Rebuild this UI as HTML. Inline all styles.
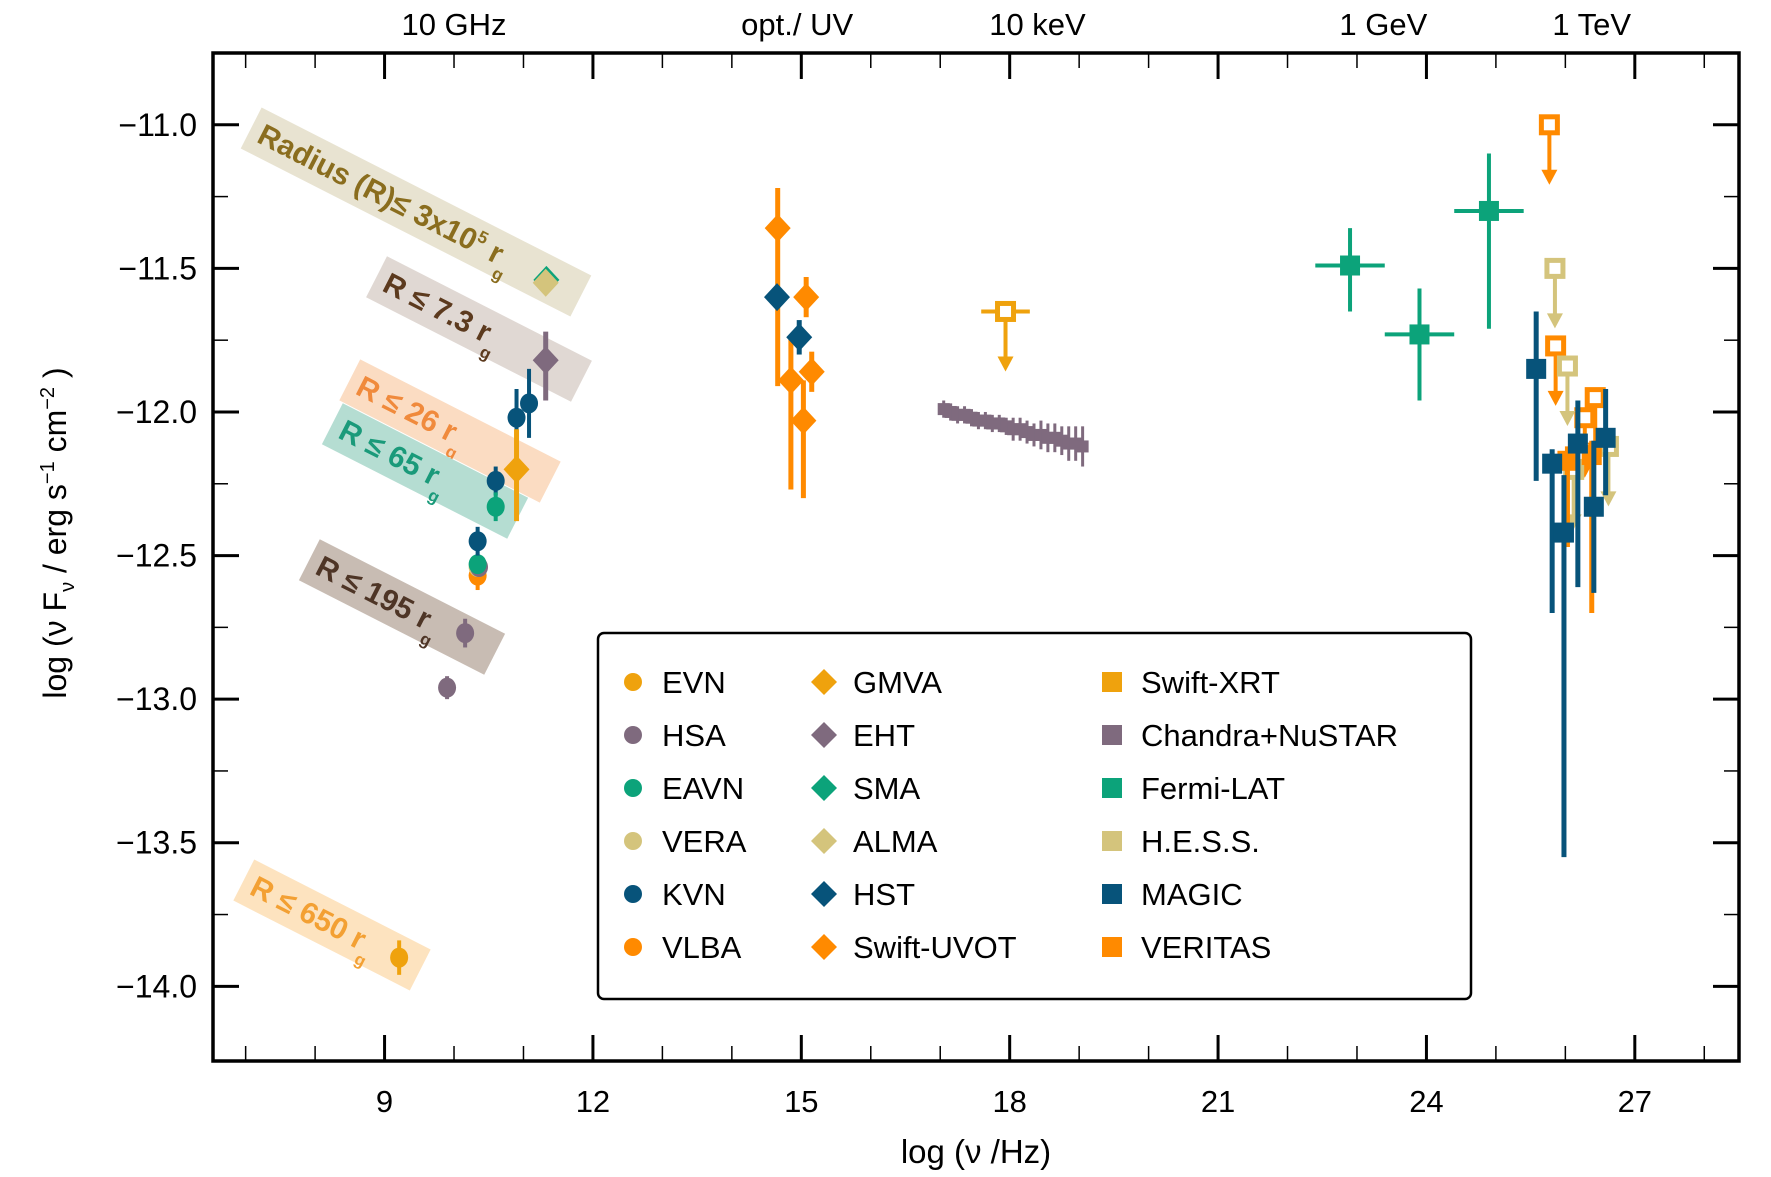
<!DOCTYPE html>
<html><head><meta charset="utf-8"><style>
html,body{margin:0;padding:0;background:#fff}
svg{display:block;font-family:"Liberation Sans","DejaVu Sans",sans-serif}
</style></head><body>
<svg id="chart" width="1771" height="1177" viewBox="0 0 1771 1177" xmlns="http://www.w3.org/2000/svg">
<g id="bands"></g>
<g id="axes"></g>
<g id="marks"></g>
<g id="legend"></g>
</svg>
<script>
const NS="http://www.w3.org/2000/svg";
const xDomain=[6.53,28.5], yDomain=[-10.75,-14.26];
const xTicksMajor=[9,12,15,18,21,24,27];
const xTicksMinor=[7,8,10,11,13,14,16,17,19,20,22,23,25,26,28];
const yTicksMajor=[-11.0,-11.5,-12.0,-12.5,-13.0,-13.5,-14.0];
const yTickLabels=["\u221211.0","\u221211.5","\u221212.0","\u221212.5","\u221213.0","\u221213.5","\u221214.0"];
const yTicksMinor=[-11.25,-11.75,-12.25,-12.75,-13.25,-13.75];
const topTicks=[10,14.94,18.4,23.38,26.38];
const topLabels=["10 GHz","opt./ UV","10 keV","1 GeV","1 TeV"];
const C={EVN:"#efa20d",HSA:"#7f6a7e",EAVN:"#0ca37a",VERA:"#d4c47c",KVN:"#07537a",VLBA:"#ff8a00",
GMVA:"#efa20d",EHT:"#7f6a7e",SMA:"#0ca37a",ALMA:"#d4c47c",HST:"#07537a",UVOT:"#ff8a00",
XRT:"#efa20d",CHANDRA:"#7f6a7e",FERMI:"#0ca37a",HESS:"#d4c47c",MAGIC:"#07537a",VERITAS:"#ff8a00"};
const circInst=["HSA","HSA","VLBA","VERA","HSA","EAVN","KVN","KVN","EAVN","KVN","KVN","EVN"];
const circX=[9.9,10.16,10.34,10.34,10.36,10.34,10.34,10.6,10.6,10.9,11.08,9.21];
const circY=[-12.96,-12.77,-12.57,-12.54,-12.54,-12.53,-12.45,-12.24,-12.33,-12.02,-11.97,-13.9];
const circE=[0.04,0.05,0.05,0.03,0.03,0.03,0.05,0.05,0.05,0.1,0.12,0.06];
const diaInst=["GMVA","EHT","SMA","ALMA","UVOT","UVOT","UVOT","UVOT","UVOT","HST","HST"];
const diaX=[10.9,11.32,11.33,11.32,14.66,15.07,14.85,15.15,15.03,14.65,14.97];
const diaY=[-12.2,-11.82,-11.54,-11.55,-11.36,-11.6,-11.89,-11.86,-12.03,-11.6,-11.74];
const diaEup=[0.14,0.1,0.03,0.03,0.14,0.07,0.15,0.07,0.14,0.02,0.06];
const diaEdn=[0.18,0.14,0.03,0.03,0.55,0.07,0.38,0.07,0.27,0.02,0.06];
const chX=[17.05,17.15,17.25,17.35,17.45,17.55,17.65,17.75,17.85,17.95,18.05,18.15,18.25,18.35,18.45,18.55,18.65,18.75,18.85,18.95,19.05];
const chY=[-11.99,-12.0,-12.01,-12.01,-12.02,-12.03,-12.03,-12.04,-12.04,-12.05,-12.06,-12.06,-12.07,-12.08,-12.08,-12.09,-12.09,-12.1,-12.11,-12.11,-12.12];
const chE=[0.03,0.03,0.03,0.03,0.03,0.03,0.03,0.03,0.03,0.03,0.04,0.04,0.04,0.04,0.05,0.05,0.05,0.05,0.06,0.06,0.07];
const feX=[22.9,23.9,24.9], feY=[-11.49,-11.73,-11.3];
const feXe=[0.5,0.5,0.5], feYup=[0.13,0.16,0.2], feYdn=[0.16,0.23,0.41];
const tevInst=["VERITAS","VERITAS","MAGIC","MAGIC","MAGIC","MAGIC","MAGIC","MAGIC"];
const tevX=[26.03,26.38,25.58,25.81,25.98,26.18,26.41,26.58];
const tevY=[-12.17,-12.15,-11.85,-12.18,-12.42,-12.11,-12.33,-12.09];
const tevUp=[0.05,0.05,0.2,0.05,0.2,0.15,0.23,0.17];
const tevDn=[0.3,0.55,0.39,0.52,1.13,0.5,0.3,0.2];
const ulInst=["XRT","VERITAS","VERITAS","VERITAS","VERITAS","HESS","HESS","HESS","HESS"];
const ulX=[17.94,25.77,25.86,26.28,26.43,25.85,26.03,26.12,26.62];
const ulY=[-11.65,-11.0,-11.77,-12.02,-11.95,-11.5,-11.84,-12.2,-12.12];

const X0=213,X1=1739,Y0=53,Y1=1061;
function sx(v){return X0+(v-xDomain[0])/(xDomain[1]-xDomain[0])*(X1-X0);}
function sy(v){return Y0+(v-yDomain[0])/(yDomain[1]-yDomain[0])*(Y1-Y0);}
function mk(tag,attrs,parent,text){const e=document.createElementNS(NS,tag);for(const k in attrs)e.setAttribute(k,attrs[k]);if(text!==undefined)e.textContent=text;parent.appendChild(e);return e;}
const axes=document.getElementById('axes'),marks=document.getElementById('marks'),bands=document.getElementById('bands'),legend=document.getElementById('legend');

const bandCx=[416,479,450,425,402,332],bandCy=[212,329,431,471,607,925],bandLen=[370,230,225,208,208,198];
const bandBg=["#e8e3d1","#e0d8d3","#fbdcc2","#b5ddd2","#c8bcb3","#fde3bf"];
const bandFg=["#8a6d1e","#5c3a1e","#f08a3c","#1a9a7a","#4e3526","#f3a033"];
const bandTxt=["Radius (R)\u2264 3x10","R \u2264 7.3 r","R \u2264 26 r","R \u2264 65 r","R \u2264 195 r","R \u2264 650 r"];
for(let i=0;i<bandCx.length;i++){
 const g=mk('g',{transform:`translate(${bandCx[i]},${bandCy[i]}) rotate(27)`},bands);
 
 
 mk('rect',{x:-bandLen[i]/2,y:-23,width:bandLen[i],height:46,fill:bandBg[i]},g);
 const t=mk('text',{x:-bandLen[i]/2+10,y:10,'font-size':30,'font-weight':'bold',fill:bandFg[i]},g);
 t.textContent=bandTxt[i];
 if(i===0){mk('tspan',{dy:-12,'font-size':17},t,'5');mk('tspan',{dy:12,'font-size':30},t,' r');mk('tspan',{dy:14,'font-size':17},t,'g');}
 else{mk('tspan',{dy:14,'font-size':17},t,'g');}
}

mk('rect',{x:X0,y:Y0,width:X1-X0,height:Y1-Y0,fill:'none',stroke:'#000','stroke-width':3.5},axes);
xTicksMajor.forEach(v=>{const x=sx(v);mk('line',{x1:x,x2:x,y1:Y1,y2:Y1-26,stroke:'#000','stroke-width':3},axes);mk('line',{x1:x,x2:x,y1:Y0,y2:Y0+26,stroke:'#000','stroke-width':3},axes);
 const t=mk('text',{x:x,y:1112,'font-size':31,'text-anchor':'middle'},axes,String(v));});
xTicksMinor.forEach(v=>{const x=sx(v);mk('line',{x1:x,x2:x,y1:Y1,y2:Y1-15,stroke:'#000','stroke-width':1.5},axes);mk('line',{x1:x,x2:x,y1:Y0,y2:Y0+15,stroke:'#000','stroke-width':1.5},axes);});
yTicksMajor.forEach((v,i)=>{const y=sy(v);mk('line',{x1:X0,x2:X0+26,y1:y,y2:y,stroke:'#000','stroke-width':3},axes);mk('line',{x1:X1,x2:X1-26,y1:y,y2:y,stroke:'#000','stroke-width':3},axes);
 const t=mk('text',{x:197,y:y+11,'font-size':32,'text-anchor':'end'},axes,yTickLabels[i]);});
yTicksMinor.forEach(v=>{const y=sy(v);mk('line',{x1:X0,x2:X0+15,y1:y,y2:y,stroke:'#000','stroke-width':1.5},axes);mk('line',{x1:X1,x2:X1-15,y1:y,y2:y,stroke:'#000','stroke-width':1.5},axes);});
topTicks.forEach((v,i)=>{const t=mk('text',{x:sx(v),y:35,'font-size':31,'text-anchor':'middle'},axes,topLabels[i]);});
const xl=mk('text',{x:976,y:1163,'font-size':33,'text-anchor':'middle'},axes,'log (\u03bd /Hz)');

const yl=mk('text',{x:0,y:0,'font-size':32,'text-anchor':'middle',transform:'translate(66,533) rotate(-90)'},axes,'log (\u03bd F');

mk('tspan',{dy:8,'font-size':20},yl,'\u03bd');mk('tspan',{dy:-8,'font-size':32},yl,' / erg s');mk('tspan',{dy:-12,'font-size':20},yl,'\u22121');mk('tspan',{dy:12,'font-size':32},yl,' cm');mk('tspan',{dy:-12,'font-size':20},yl,'\u22122');mk('tspan',{dy:12,'font-size':32},yl,' )');

function vbar(x,y1,y2,c,w){mk('line',{x1:x,x2:x,y1:y1,y2:y2,stroke:c,'stroke-width':w||4},marks);}
for(let i=0;i<chX.length;i++){const x=sx(chX[i]),y=sy(chY[i]);vbar(x,sy(chY[i]+chE[i]),sy(chY[i]-chE[i]),C.CHANDRA,3);
 const r=mk('rect',{x:x-6,y:y-6,width:12,height:12,fill:C.CHANDRA},marks);}
for(let i=0;i<circX.length;i++){const x=sx(circX[i]),y=sy(circY[i]),c=C[circInst[i]];vbar(x,sy(circY[i]+circE[i]),sy(circY[i]-circE[i]),c);
 const e=mk('ellipse',{cx:x,cy:y,rx:9,ry:10,fill:c},marks);}
for(let i=0;i<diaX.length;i++){const x=sx(diaX[i]),y=sy(diaY[i]),c=C[diaInst[i]];vbar(x,sy(diaY[i]+diaEup[i]),sy(diaY[i]-diaEdn[i]),c,5);
 const p=mk('polygon',{points:`${x},${y-14} ${x+13},${y} ${x},${y+14} ${x-13},${y}`,fill:c},marks);}
for(let i=0;i<feX.length;i++){const x=sx(feX[i]),y=sy(feY[i]);vbar(x,sy(feY[i]+feYup[i]),sy(feY[i]-feYdn[i]),C.FERMI,4);
 mk('line',{x1:sx(feX[i]-feXe[i]),x2:sx(feX[i]+feXe[i]),y1:y,y2:y,stroke:C.FERMI,'stroke-width':4},marks);
 const r=mk('rect',{x:x-10,y:y-10,width:20,height:20,fill:C.FERMI},marks);}
for(let i=0;i<ulX.length;i++){const x=sx(ulX[i]),y=sy(ulY[i]),c=C[ulInst[i]];
 vbar(x,y,y+50,c,4);mk('polygon',{points:`${x-8},${y+45} ${x+8},${y+45} ${x},${y+60}`,fill:c},marks);
 if(ulInst[i]==="XRT")mk('line',{x1:sx(ulX[i]-0.35),x2:sx(ulX[i]+0.35),y1:y,y2:y,stroke:c,'stroke-width':4},marks);
 const r=mk('rect',{x:x-8,y:y-8,width:16,height:16,fill:'#fff',stroke:c,'stroke-width':5},marks);}
for(let i=0;i<tevX.length;i++){const x=sx(tevX[i]),y=sy(tevY[i]),c=C[tevInst[i]];vbar(x,sy(tevY[i]+tevUp[i]),sy(tevY[i]-tevDn[i]),c,5);
 const r=mk('rect',{x:x-10,y:y-10,width:20,height:20,fill:c},marks);}

const lb=mk('rect',{x:598,y:633,width:873,height:366,rx:6,fill:'#fff',stroke:'#000','stroke-width':2.5},legend);

const legCols=[[["EVN","EVN"],["HSA","HSA"],["EAVN","EAVN"],["VERA","VERA"],["KVN","KVN"],["VLBA","VLBA"]],
[["GMVA","GMVA"],["EHT","EHT"],["SMA","SMA"],["ALMA","ALMA"],["HST","HST"],["UVOT","Swift-UVOT"]],
[["XRT","Swift-XRT"],["CHANDRA","Chandra+NuSTAR"],["FERMI","Fermi-LAT"],["HESS","H.E.S.S."],["MAGIC","MAGIC"],["VERITAS","VERITAS"]]];
const legMx=[633,824,1112],legTx=[662,853,1141],legRy=[693,746,799,852,905,958];
legCols.forEach((col,ci)=>col.forEach((it,ri)=>{const mx=legMx[ci],y=legRy[ri]-11,c=C[it[0]];
 const g=mk('g',{},legend);
 if(ci===0)mk('circle',{cx:mx,cy:y,r:9,fill:c},g);
 else if(ci===1)mk('polygon',{points:`${mx},${y-13} ${mx+13},${y} ${mx},${y+13} ${mx-13},${y}`,fill:c},g);
 else mk('rect',{x:mx-10,y:y-10,width:20,height:20,fill:c},g);
 mk('text',{x:legTx[ci],y:legRy[ri],'font-size':31},g,it[1]);}));
</script>
</body></html>
